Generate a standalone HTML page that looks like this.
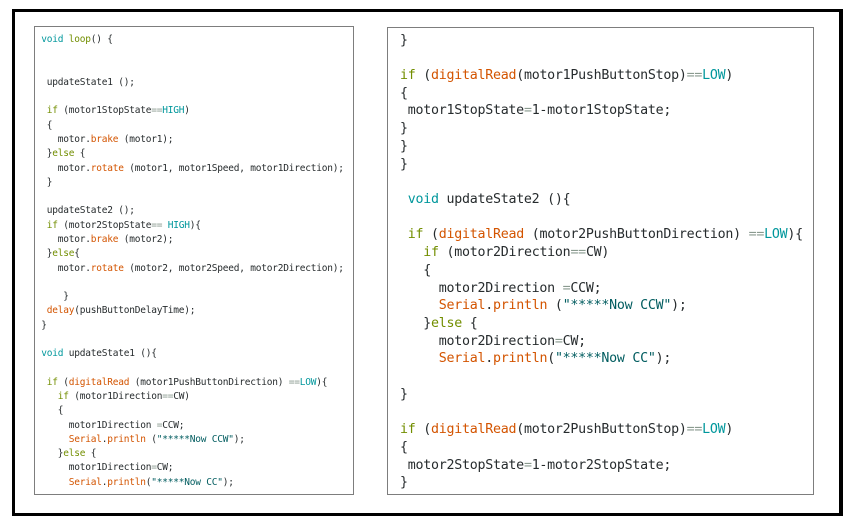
<!DOCTYPE html>
<html><head><meta charset="utf-8"><style>
html,body{margin:0;padding:0;background:#fff;}
body{width:857px;height:524px;position:relative;overflow:hidden;}
.outer{position:absolute;left:12px;top:9px;width:831px;height:507px;box-sizing:border-box;border:3px solid #000;border-right-width:4px;}
.panel{position:absolute;box-sizing:border-box;border:1.5px solid #7d7d7d;background:#fff;}
pre{position:absolute;margin:0;font-family:"DejaVu Sans Mono","Liberation Mono",monospace;color:#262b2d;white-space:pre;}
.l{left:41.3px;top:33px;font-size:9.5px;letter-spacing:-0.22px;line-height:14.28px;}
.r{left:400px;top:31.5px;font-size:13.3px;letter-spacing:-0.26px;line-height:17.72px;}
.k{color:#728E00;}
.o{color:#D35400;}
.t{color:#00979C;}
.s{color:#005C5F;}
.p{color:#8a9a8f;}
</style></head><body>
<div class="outer"></div>
<div class="panel" style="left:34px;top:26px;width:320px;height:469px;"></div>
<div class="panel" style="left:387px;top:27px;width:427px;height:468px;"></div>
<pre class="l"><span class="t">void</span> <span class="k">loop</span>() {


 updateState1 ();

 <span class="k">if</span> (motor1StopState<span class="p">==</span><span class="t">HIGH</span>)
 {
   motor.<span class="o">brake</span> (motor1);
 }<span class="k">else</span> {
   motor.<span class="o">rotate</span> (motor1, motor1Speed, motor1Direction);
 }

 updateState2 ();
 <span class="k">if</span> (motor2StopState<span class="p">==</span> <span class="t">HIGH</span>){
   motor.<span class="o">brake</span> (motor2);
 }<span class="k">else</span>{
   motor.<span class="o">rotate</span> (motor2, motor2Speed, motor2Direction);

    }
 <span class="o">delay</span>(pushButtonDelayTime);
}

<span class="t">void</span> updateState1 (){

 <span class="k">if</span> (<span class="o">digitalRead</span> (motor1PushButtonDirection) <span class="p">==</span><span class="t">LOW</span>){
   <span class="k">if</span> (motor1Direction<span class="p">==</span>CW)
   {
     motor1Direction <span class="p">=</span>CCW;
     <span class="o">Serial</span>.<span class="o">println</span> (<span class="s">"*****Now CCW"</span>);
   }<span class="k">else</span> {
     motor1Direction<span class="p">=</span>CW;
     <span class="o">Serial</span>.<span class="o">println</span>(<span class="s">"*****Now CC"</span>);</pre>
<pre class="r">}

<span class="k">if</span> (<span class="o">digitalRead</span>(motor1PushButtonStop)<span class="p">==</span><span class="t">LOW</span>)
{
 motor1StopState<span class="p">=</span>1-motor1StopState;
}
}
}

 <span class="t">void</span> updateState2 (){

 <span class="k">if</span> (<span class="o">digitalRead</span> (motor2PushButtonDirection) <span class="p">==</span><span class="t">LOW</span>){
   <span class="k">if</span> (motor2Direction<span class="p">==</span>CW)
   {
     motor2Direction <span class="p">=</span>CCW;
     <span class="o">Serial</span>.<span class="o">println</span> (<span class="s">"*****Now CCW"</span>);
   }<span class="k">else</span> {
     motor2Direction<span class="p">=</span>CW;
     <span class="o">Serial</span>.<span class="o">println</span>(<span class="s">"*****Now CC"</span>);

}

<span class="k">if</span> (<span class="o">digitalRead</span>(motor2PushButtonStop)<span class="p">==</span><span class="t">LOW</span>)
{
 motor2StopState<span class="p">=</span>1-motor2StopState;
}</pre>
</body></html>
